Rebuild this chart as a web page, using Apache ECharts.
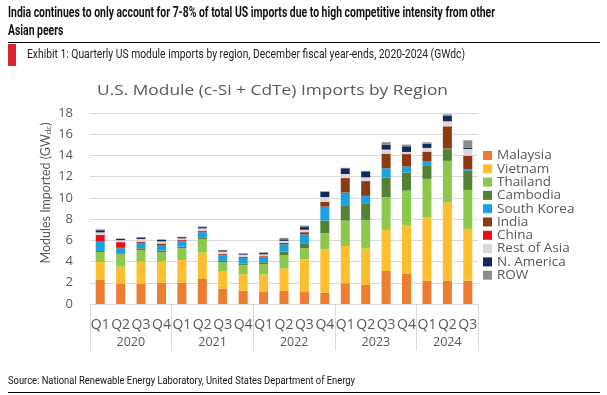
<!DOCTYPE html>
<html>
<head>
<meta charset="utf-8">
<script src="https://cdn.jsdelivr.net/npm/echarts@6/dist/echarts.min.js"></script>
<style>
html,body{margin:0;padding:0;background:#fff;}
#c{width:607px;height:395px;}
</style>
</head>
<body>
<div id="c"></div>
<script>
// ---- data ----
const quarters = ['Q1','Q2','Q3','Q4','Q1','Q2','Q3','Q4','Q1','Q2','Q3','Q4','Q1','Q2','Q3','Q4','Q1','Q2','Q3'];
const years = ['2020','2021','2022','2023','2024'];
const quartersPerYear = [4,4,4,4,3];
const yTicks = [0,2,4,6,8,10,12,14,16,18];

const malaysia   = [2.26,1.89,1.88,2.01, 2.00,2.36,1.45,1.26, 1.13,1.23,1.13,1.07, 1.95,1.79,3.11,2.86, 2.20,2.20,2.20];
const vietnam    = [1.70,1.63,2.11,1.98, 2.15,2.48,1.60,1.54, 1.64,2.13,3.08,4.09, 3.52,3.46,3.87,4.59, 5.94,7.36,4.88];
const thailand   = [0.94,1.16,1.10,0.91, 1.10,1.29,0.88,0.88, 1.00,1.23,1.04,1.51, 2.39,2.67,3.08,3.24, 3.65,3.93,3.67];
const cambodia   = [0.10,0.10,0.16,0.13, 0.15,0.16,0.13,0.12, 0.16,0.35,0.41,1.19, 1.45,1.51,1.86,1.70, 1.29,1.10,1.80];
const southKorea = [0.85,0.47,0.50,0.53, 0.50,0.47,0.53,0.54, 0.50,0.69,0.91,1.32, 1.19,0.76,0.88,0.57, 0.35,0.05,0.15];
const india      = [0.05,0.05,0.08,0.10, 0.10,0.10,0.10,0.08, 0.06,0.12,0.19,0.44, 1.36,1.38,1.35,1.16, 0.91,2.09,1.26];
const china      = [0.60,0.53,0.05,0.04, 0.03,0.05,0.05,0.03, 0.02,0.02,0.02,0.02, 0.02,0.02,0.02,0.02, 0.02,0.02,0.02];
const restOfAsia = [0.25,0.19,0.25,0.20, 0.15,0.22,0.20,0.20, 0.17,0.18,0.22,0.44, 0.37,0.35,0.38,0.19, 0.35,0.47,0.63];
const nAmerica   = [0.20,0.12,0.14,0.15, 0.12,0.12,0.12,0.10, 0.12,0.15,0.25,0.50, 0.54,0.56,0.47,0.53, 0.40,0.54,0.13];
const rowData    = [0.08,0.03,0.05,0.04, 0.03,0.05,0.04,0.03, 0.07,0.13,0.14,0.05, 0.05,0.05,0.23,0.16, 0.13,0.12,0.69];

const seriesNames = ['Malaysia','Vietnam','Thailand','Cambodia','South Korea','India','China','Rest of Asia','N. America','ROW'];
const seriesData = [malaysia,vietnam,thailand,cambodia,southKorea,india,china,restOfAsia,nAmerica,rowData];
const seriesColors = ['#ED7D31','#FDBF2D','#8CC84B','#548235','#1BA1E2','#8B3A12','#E8101A','#DCD6D6','#0E2A5E','#8C8C8C'];

const headline1 = 'India continues to only account for 7-8% of total US imports due to high competitive intensity from other';
const headline2 = 'Asian peers';
const exhibit = 'Exhibit 1: Quarterly US module imports by region, December fiscal year-ends, 2020-2024 (GWdc)';
const chartTitle = 'U.S. Module (c-Si + CdTe) Imports by Region';
const yName = ['Modules Imported (GW', 'dc', ')'];
const source = 'Source: National Renewable Energy Laboratory, United States Department of Energy';

// ---- helpers ----
const mctx = document.createElement('canvas').getContext('2d');
function fitScale(text, font, target){ mctx.font = font; return target / mctx.measureText(text).width; }

// year boundaries / centers along the quarter axis
const bounds = [0]; quartersPerYear.forEach(n => bounds.push(bounds[bounds.length-1] + n));
const centers = years.map((y,i) => (bounds[i] + bounds[i+1]) / 2);

const hFont = 'bold 14px Roboto';
const eFont = '13px Roboto';
const sFont = '10px Roboto';
const tFont = '15px "Open Sans"';
const AF = 'Open Sans';

const chart = echarts.init(document.getElementById('c'), null, {renderer:'canvas'});
const txt = '#595959';
const option = {
  animation:false,
  backgroundColor:'#fff',
  grid:{left:90, right:129, top:113, bottom:91, containLabel:false},
  legend:{
    orient:'vertical', left:483, top:148.5, padding:0, itemWidth:9, itemHeight:9, itemGap:-0.7,
    icon:'rect',
    textStyle:{fontFamily:AF, fontSize:13.5, lineHeight:12.4, color:txt, padding:[0,0,0,0]},
    data: seriesNames
  },
  xAxis:[{
    type:'category', data:quarters,
    axisLine:{show:true, lineStyle:{color:'#D9D9D9'}},
    axisTick:{show:false},
    axisLabel:{interval:0, color:txt, fontFamily:AF, fontSize:14, margin:14}
  },{
    type:'value', min:0, max:bounds[bounds.length-1], position:'bottom',
    axisLine:{show:false}, splitLine:{show:false},
    axisTick:{show:true, customValues:bounds, length:46, lineStyle:{color:'#D9D9D9'}},
    axisLabel:{customValues:centers, margin:32, color:txt, fontFamily:AF, fontSize:12.5,
      formatter:(v)=>{ const i = centers.findIndex(c=>Math.abs(c-v)<1e-6); return i>=0?years[i]:''; }}
  }],
  yAxis:{
    type:'value', min:yTicks[0], max:yTicks[yTicks.length-1], interval:2,
    axisLine:{show:false}, axisTick:{show:false},
    splitLine:{lineStyle:{color:'#D9D9D9'}},
    axisLabel:{color:txt, fontFamily:AF, fontSize:13, margin:17}
  },
  series: seriesNames.map((n,i)=>({
    name:n, type:'bar', stack:'total', xAxisIndex:0, barWidth:9,
    itemStyle:{color:seriesColors[i]}, data:seriesData[i]
  })),
  graphic:[
    {type:'text', x:8, y:13, scaleX:fitScale(headline1,hFont,487), style:{text:headline1, font:hFont, fill:'#111', textVerticalAlign:'middle'}},
    {type:'text', x:8, y:31, scaleX:fitScale(headline1,hFont,487), style:{text:headline2, font:hFont, fill:'#111', textVerticalAlign:'middle'}},
    {type:'line', shape:{x1:8, y1:42.5, x2:600, y2:42.5}, style:{stroke:'#000', lineWidth:1}},
    {type:'rect', shape:{x:8, y:44, width:8, height:22}, style:{fill:'#D7262F'}},
    {type:'text', x:27, y:55, scaleX:fitScale(exhibit,eFont,438), style:{text:exhibit, font:eFont, fill:'#222', textVerticalAlign:'middle'}},
    {type:'text', x:272.5, y:91, scaleX:fitScale(chartTitle,tFont,351), style:{text:chartTitle, font:tFont, fill:txt, textAlign:'center', textVerticalAlign:'middle'}},
    {type:'text', x:45, y:193, rotation:Math.PI/2,
      style:{text:'{a|'+yName[0]+'}{s|'+yName[1]+'}{a|'+yName[2]+'}', textAlign:'center', textVerticalAlign:'middle',
        rich:{a:{fontFamily:'Lato', fontSize:12.5, fill:txt, verticalAlign:'bottom', lineHeight:14},
              s:{fontFamily:'Lato', fontSize:8, fill:txt, verticalAlign:'bottom', lineHeight:10}}}},
    {type:'text', x:8, y:381, scaleX:fitScale(source,sFont,347), style:{text:source, font:sFont, fill:'#111', textVerticalAlign:'middle'}},
    {type:'line', shape:{x1:8, y1:392.5, x2:600, y2:392.5}, style:{stroke:'#000', lineWidth:1}}
  ]
};
chart.setOption(option);
</script>
</body>
</html>
